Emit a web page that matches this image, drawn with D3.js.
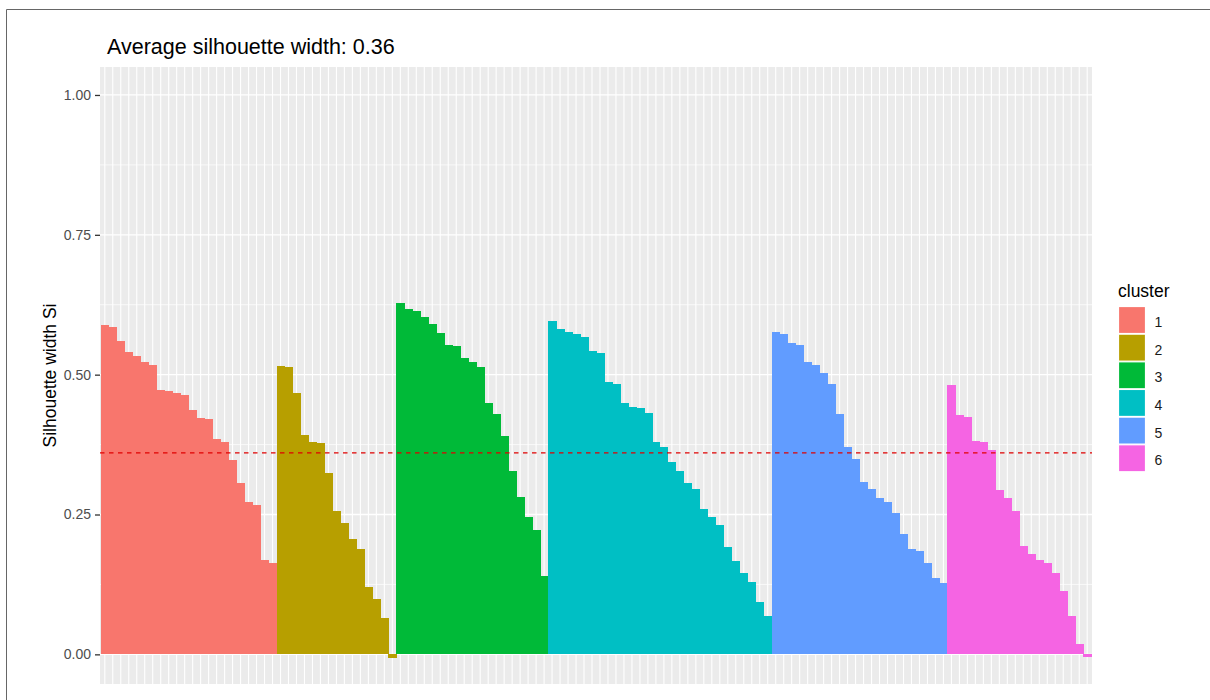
<!DOCTYPE html>
<html>
<head>
<meta charset="utf-8">
<script src="https://cdn.jsdelivr.net/npm/d3@7"></script>
<style>
  html, body { margin: 0; padding: 0; background: #ffffff; }
  svg { display: block; font-family: "Liberation Sans", Arial, sans-serif; }
</style>
</head>
<body>
<svg id="chart" width="1210" height="700"></svg>
<script>
// Silhouette widths of each observation, grouped by cluster and sorted within each cluster
const sil1 = [0.588, 0.585, 0.561, 0.540, 0.533, 0.523, 0.518, 0.473, 0.471, 0.467, 0.464,
              0.436, 0.423, 0.421, 0.385, 0.379, 0.348, 0.307, 0.272, 0.267, 0.169, 0.164];
const sil2 = [0.516, 0.514, 0.468, 0.392, 0.379, 0.377, 0.324, 0.256, 0.235, 0.207, 0.189,
              0.120, 0.099, 0.065, -0.006];
const sil3 = [0.628, 0.618, 0.614, 0.603, 0.590, 0.575, 0.553, 0.552, 0.529, 0.523, 0.514,
              0.449, 0.430, 0.391, 0.328, 0.281, 0.246, 0.222, 0.140];
const sil4 = [0.596, 0.581, 0.577, 0.572, 0.568, 0.542, 0.539, 0.486, 0.483, 0.449, 0.442,
              0.440, 0.431, 0.379, 0.371, 0.343, 0.327, 0.307, 0.295, 0.259, 0.246, 0.231,
              0.192, 0.166, 0.146, 0.129, 0.094, 0.069];
const sil5 = [0.576, 0.572, 0.557, 0.553, 0.522, 0.518, 0.503, 0.483, 0.429, 0.371, 0.349,
              0.308, 0.295, 0.280, 0.273, 0.252, 0.216, 0.189, 0.185, 0.164, 0.137, 0.128];
const sil6 = [0.481, 0.427, 0.425, 0.382, 0.380, 0.365, 0.293, 0.280, 0.256, 0.194, 0.179,
              0.168, 0.164, 0.146, 0.114, 0.069, 0.019, -0.005];

const clusterNames = ["1", "2", "3", "4", "5", "6"];
const clusterColors = ["#F8766D", "#B79F00", "#00BA38", "#00BFC4", "#619CFF", "#F564E3"];
const yTickValues = [0, 0.25, 0.5, 0.75, 1.0];
const yTickLabels = ["0.00", "0.25", "0.50", "0.75", "1.00"];
const yMinorValues = [0.125, 0.375, 0.625, 0.875];
const avgSilWidth = 0.36;

// One row per observation, in plotting order
const clusterValues = [sil1, sil2, sil3, sil4, sil5, sil6];
const rows = [];
clusterValues.forEach((vals, ci) => {
  vals.forEach(v => rows.push({ id: "obs" + (rows.length + 1), cluster: clusterNames[ci], sil: v }));
});

const svg = d3.select("#chart");
const panel = { left: 100, right: 1092, top: 67, bottom: 684 };

const x = d3.scaleBand()
  .domain(rows.map(d => d.id))
  .range([panel.left, panel.right])
  .paddingInner(0)
  .paddingOuter(0.1);

const y = d3.scaleLinear()
  .domain([-0.053, 1.050])
  .range([panel.bottom, panel.top]);

const color = d3.scaleOrdinal().domain(clusterNames).range(clusterColors);

// Outer frame
svg.append("line").attr("x1", 6.5).attr("x2", 1210).attr("y1", 9.5).attr("y2", 9.5)
  .attr("stroke", "#666").attr("stroke-width", 1);
svg.append("line").attr("x1", 6.5).attr("x2", 6.5).attr("y1", 9.5).attr("y2", 700)
  .attr("stroke", "#666").attr("stroke-width", 1);

// Panel background
svg.append("rect")
  .attr("x", panel.left).attr("y", panel.top)
  .attr("width", panel.right - panel.left).attr("height", panel.bottom - panel.top)
  .attr("fill", "#EBEBEB");

// Grid lines
const grid = svg.append("g");
grid.selectAll(".minor").data(yMinorValues).join("line")
  .attr("x1", panel.left).attr("x2", panel.right)
  .attr("y1", d => y(d)).attr("y2", d => y(d))
  .attr("stroke", "#ffffff").attr("stroke-width", 0.7);
grid.selectAll(".major").data(yTickValues).join("line")
  .attr("x1", panel.left).attr("x2", panel.right)
  .attr("y1", d => y(d)).attr("y2", d => y(d))
  .attr("stroke", "#ffffff").attr("stroke-width", 1.3);
grid.selectAll(".vgrid").data(rows).join("line")
  .attr("x1", d => x(d.id) + x.bandwidth() / 2).attr("x2", d => x(d.id) + x.bandwidth() / 2)
  .attr("y1", panel.top).attr("y2", panel.bottom)
  .attr("stroke", "#ffffff").attr("stroke-width", 1.1);

// Bars
svg.append("g")
  .attr("shape-rendering", "crispEdges")
  .selectAll("rect").data(rows).join("rect")
  .attr("x", d => x(d.id))
  .attr("width", x.bandwidth() + 0.6)
  .attr("y", d => Math.min(y(d.sil), y(0)))
  .attr("height", d => Math.abs(y(d.sil) - y(0)))
  .attr("fill", d => color(d.cluster));

// Average silhouette width reference line
svg.append("line")
  .attr("x1", panel.left).attr("x2", panel.right)
  .attr("y1", y(avgSilWidth)).attr("y2", y(avgSilWidth))
  .attr("stroke", "#E00000").attr("stroke-width", 1.2)
  .attr("stroke-dasharray", "4.5,4.5");

// Y axis
const yAxis = svg.append("g")
  .attr("transform", `translate(${panel.left},0)`)
  .call(d3.axisLeft(y).tickValues(yTickValues)
    .tickFormat((d, i) => yTickLabels[i]).tickSize(5).tickPadding(4));
yAxis.select(".domain").remove();
yAxis.selectAll(".tick line").attr("stroke", "#333333").attr("stroke-width", 1.3);
yAxis.selectAll(".tick text")
  .attr("fill", "#4D4D4D")
  .style("font-size", "14px")
  .style("font-family", "'Liberation Sans', Arial, sans-serif");

// Y axis title
svg.append("text")
  .attr("transform", `translate(56,${(panel.top + panel.bottom) / 2}) rotate(-90)`)
  .attr("text-anchor", "middle")
  .attr("fill", "#000")
  .style("font-size", "17.5px")
  .text("Silhouette width Si");

// Title
svg.append("text")
  .attr("x", 107).attr("y", 54)
  .attr("fill", "#000")
  .style("font-size", "21.5px")
  .text("Average silhouette width: " + d3.format(".2f")(avgSilWidth));

// Legend
const legend = svg.append("g");
legend.append("text")
  .attr("x", 1118).attr("y", 296.5)
  .attr("fill", "#000")
  .style("font-size", "17.5px")
  .text("cluster");
const keyStep = 27.65, keyTop = 306.5, keySize = 27;
const items = legend.selectAll(".item").data(clusterNames).join("g")
  .attr("transform", (d, i) => `translate(1118.5,${keyTop + i * keyStep})`);
items.append("rect")
  .attr("width", keySize).attr("height", keySize)
  .attr("fill", d => color(d))
  .attr("stroke", "#ffffff").attr("stroke-width", 1.2);
items.append("text")
  .attr("x", 36).attr("y", keySize / 2 + 7)
  .attr("fill", "#1A1A1A")
  .style("font-size", "14px")
  .text(d => d);
</script>
</body>
</html>
